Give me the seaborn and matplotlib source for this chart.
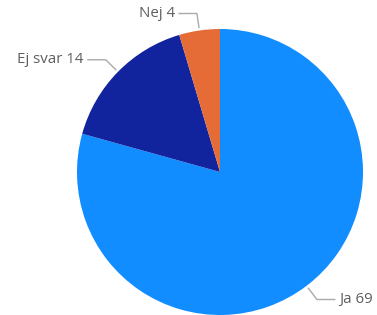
import numpy as np
import matplotlib.pyplot as plt
import seaborn as sns

# Answers and counts (clockwise from the top)
categories = ["Ja", "Ej svar", "Nej"]
counts = [69, 14, 4]
colors = ["#118DFF", "#12239E", "#E66C37"]

sns.set_theme(style="white")
plt.rcParams['font.family'] = ['Open Sans', 'DejaVu Sans']

fig = plt.figure(figsize=(3.77, 3.15), dpi=100)
ax = fig.add_axes([0, 0, 1, 1])

cx, cy, r = 220, 143, 143
wedges, _ = ax.pie(counts, colors=colors, startangle=90, counterclock=False,
                   center=(cx, cy), radius=r, frame=True,
                   wedgeprops=dict(linewidth=0))
ax.set_xlim(0, 377)
ax.set_ylim(0, 315)
ax.set_aspect("equal")
ax.axis("off")

# leader lines and labels
for w, name, n in zip(wedges, categories, counts):
    mid = np.deg2rad((w.theta1 + w.theta2) / 2)
    x0, y0 = cx + r * 1.02 * np.cos(mid), cy + r * 1.02 * np.sin(mid)
    x1, y1 = cx + r * 1.12 * np.cos(mid), cy + r * 1.12 * np.sin(mid)
    side = 1 if np.cos(mid) > 0 else -1
    x2 = x1 + side * 18
    ax.plot([x0, x1, x2], [y0, y1, y1], color="#AAAAAA", lw=1, clip_on=False)
    ax.text(x2 + side * 4, y1, f"{name} {n}", ha="left" if side > 0 else "right",
            va="center", fontsize=10.8, color="#605E5C")

fig.savefig("out.png", dpi=100)
